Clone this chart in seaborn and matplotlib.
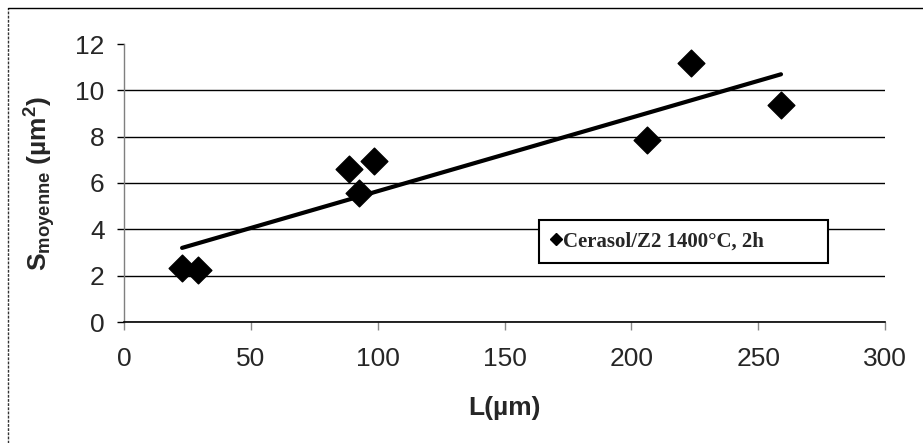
import matplotlib
matplotlib.use("Agg")
import matplotlib.pyplot as plt
import seaborn as sns
import pandas as pd
from matplotlib.lines import Line2D

# Valeurs
L_um = [22.9, 29.2, 88.7, 92.6, 98.5, 206.2, 223.5, 259.0]
S_moyenne = [2.34, 2.26, 6.60, 5.57, 6.95, 7.87, 11.20, 9.38]
serie = "Cerasol/Z2 1400°C, 2h"
x_ticks = [0, 50, 100, 150, 200, 250, 300]
y_ticks = [0, 2, 4, 6, 8, 10, 12]

df = pd.DataFrame({"L": L_um, "S": S_moyenne})

sns.set_theme(style="white")
plt.rcParams["font.family"] = ["Liberation Sans", "DejaVu Sans"]
plt.rcParams["mathtext.fontset"] = "custom"
plt.rcParams["mathtext.rm"] = "Liberation Sans"
plt.rcParams["mathtext.bf"] = "Liberation Sans:bold"
plt.rcParams["mathtext.it"] = "Liberation Sans:italic"

W, H = 923, 443
fig = plt.figure(figsize=(W / 100, H / 100), dpi=100)
ax = fig.add_axes([124 / W, 1 - 322 / H, (885 - 124) / W, (322 - 44) / H])

sns.regplot(data=df, x="L", y="S", ci=None, marker="D", ax=ax,
            scatter_kws={"s": 185, "color": "black", "edgecolor": "black",
                         "alpha": 1, "zorder": 4},
            line_kws={"color": "black", "lw": 3, "zorder": 3})

ax.set_xlim(0, 300)
ax.set_ylim(0, 12)
ax.set_xticks(x_ticks)
ax.set_yticks(y_ticks)

# quadrillage horizontal (pas de ligne a 12)
ax.grid(axis="y", color="black", lw=1, zorder=0)
ax.get_ygridlines()[-1].set_visible(False)
ax.set_axisbelow(True)

for s in ["top", "right"]:
    ax.spines[s].set_visible(False)
ax.spines["left"].set_color("#7f7f7f")
ax.spines["left"].set_linewidth(1)
ax.spines["left"].set_linestyle((0, (1, 1)))
ax.spines["bottom"].set_color("black")
ax.spines["bottom"].set_linewidth(1.2)

ax.tick_params(axis="y", direction="out", length=5, width=1, color="black",
               pad=9, labelsize=19, left=True)
ax.tick_params(axis="x", direction="out", length=6, width=1, color="#8a8a8a",
               pad=12, labelsize=19, bottom=True)

ax.set_xlabel("L(µm)", fontsize=19, fontweight="bold")
ax.xaxis.set_label_coords(0.5, (322 - 408) / 278)
ax.xaxis.label.set_va("center")
ax.set_ylabel(r"S$_{\mathbf{moyenne}}$ (µm$^{\mathbf{2}}$)", fontsize=19, fontweight="bold")
ax.yaxis.set_label_coords((40 - 124) / 761, 0.5)
ax.yaxis.label.set_va("center")

handle = Line2D([], [], marker="D", ls="", color="black", markersize=6.5)
leg = ax.legend([handle], [serie], loc="center",
                bbox_to_anchor=((539 - 124) / 761, (322 - 265) / 278, 289 / 761, 47 / 278),
                mode="expand", frameon=True, fancybox=False, framealpha=1,
                edgecolor="black", borderpad=0.55, handlelength=0.5,
                handletextpad=0.1, borderaxespad=0,
                prop={"family": "Liberation Serif", "weight": "bold", "size": 15})
leg.get_frame().set_linewidth(1.5)
leg.set_zorder(5)

# cadre exterieur (haut et gauche)
fig.add_artist(Line2D([8 / W, 8 / W], [0, 1 - 8 / H], color="#333333", lw=1,
                      ls=(0, (2, 1)), transform=fig.transFigure))
fig.add_artist(Line2D([8 / W, 1], [1 - 8 / H, 1 - 8 / H], color="black", lw=1,
                      transform=fig.transFigure))

fig.savefig("out.png", dpi=100, facecolor="white")
